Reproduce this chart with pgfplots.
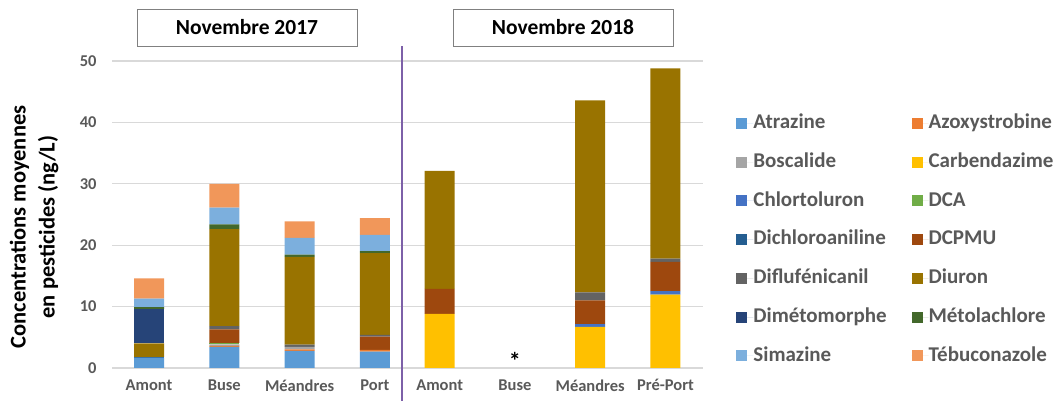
\documentclass[border=0pt]{standalone}
\usepackage{pgfplots}
\pgfplotsset{compat=1.18}
\usepackage{pgfplotstable}
\usepackage{fontspec}
\setmainfont{Carlito}

\definecolor{cAtr}{HTML}{5B9BD5}
\definecolor{cAzo}{HTML}{ED7D31}
\definecolor{cBos}{HTML}{A5A5A5}
\definecolor{cCar}{HTML}{FFC000}
\definecolor{cChl}{HTML}{4472C4}
\definecolor{cDCA}{HTML}{70AD47}
\definecolor{cDic}{HTML}{255E91}
\definecolor{cDCP}{HTML}{9E480E}
\definecolor{cDif}{HTML}{636363}
\definecolor{cDiu}{HTML}{997300}
\definecolor{cDim}{HTML}{264478}
\definecolor{cMet}{HTML}{43682B}
\definecolor{cSim}{HTML}{7CAFDD}
\definecolor{cTeb}{HTML}{F1975A}
\definecolor{labgray}{HTML}{595959}
\definecolor{gridgray}{HTML}{D9D9D9}
\definecolor{sepline}{RGB}{125,96,168}

% concentrations (ng/L), one row per site; Buse 2018 has no data (*)
\pgfplotstableread{
x    Atr  Azo  Bos  Car   Chl  DCA  Dic  DCP  Dif  Diu  Dim  Met  Sim  Teb
0    1.7  0    0    0     0    0    0.1  0    0    2.2  5.6  0.3  1.4  3.3
1    3.45 0.15 0.25 0     0    0.25 0    2.2  0.5  15.8 0    0.8  2.7  3.9
2    2.8  0.25 0.4  0     0    0    0    0    0.35 14.3 0    0.35 2.75 2.7
3    2.65 0.3  0    0     0    0    0    2.15 0.3  13.3 0    0.35 2.65 2.7
3.86 0    0    0    8.8   0    0    0    4.1  0    19.2 0    0    0    0
5.86 0    0    0    6.7   0.45 0    0    3.85 1.3  31.3 0    0    0    0
6.86 0    0    0    11.95 0.55 0    0    4.8  0.5  31.0 0    0    0    0
}\data

\begin{document}
\begin{tikzpicture}[x=1pt,y=1pt]
\begin{axis}[
  at={(149pt,33pt)}, anchor=origin,
  scale only axis, width=591pt, height=307pt,
  ybar stacked, bar width=30pt,
  xmin=-0.49, xmax=7.36, ymin=0, ymax=50,
  ytick={0,10,...,50},
  xtick={0,1,2,3,3.86,4.86,5.86,6.86},
  xticklabels={Amont,Buse,Méandres,Port,Amont,Buse,Méandres,Pré-Port},
  ymajorgrids, grid style={draw=gridgray, line width=1.2pt},
  axis line style={draw=none}, major tick length=0pt,
  /pgf/number format/assume math mode=true,
  ticklabel style={font=\bfseries\fontsize{16.5}{19}\selectfont, text=labgray},
  xticklabel style={yshift=-8pt},
  yticklabel style={xshift=-12pt},
  clip=false,
  legend columns=2, legend cell align=left,
  legend image code/.code={\fill[#1] (0pt,-5.5pt) rectangle (11pt,5.5pt); \path (0pt,0pt) -- (17pt,0pt);},
  legend style={at={(axis description cs:1.056,0.827)}, anchor=north west,
    draw=none, fill=none, inner sep=0pt, row sep=20.2pt,
    font=\bfseries\fontsize{21}{23}\selectfont, text=labgray,
    nodes={inner sep=0pt, text height=14.5pt, text depth=4pt},
    /tikz/every even column/.append style={column sep=25pt}},
]
\addplot[fill=cAtr, draw=none] table[x=x, y=Atr] {\data};
\addplot[fill=cAzo, draw=none] table[x=x, y=Azo] {\data};
\addplot[fill=cBos, draw=none] table[x=x, y=Bos] {\data};
\addplot[fill=cCar, draw=none] table[x=x, y=Car] {\data};
\addplot[fill=cChl, draw=none] table[x=x, y=Chl] {\data};
\addplot[fill=cDCA, draw=none] table[x=x, y=DCA] {\data};
\addplot[fill=cDic, draw=none] table[x=x, y=Dic] {\data};
\addplot[fill=cDCP, draw=none] table[x=x, y=DCP] {\data};
\addplot[fill=cDif, draw=none] table[x=x, y=Dif] {\data};
\addplot[fill=cDiu, draw=none] table[x=x, y=Diu] {\data};
\addplot[fill=cDim, draw=none] table[x=x, y=Dim] {\data};
\addplot[fill=cMet, draw=none] table[x=x, y=Met] {\data};
\addplot[fill=cSim, draw=none] table[x=x, y=Sim] {\data};
\addplot[fill=cTeb, draw=none] table[x=x, y=Teb] {\data};
\legend{Atrazine,Azoxystrobine,Boscalide,Carbendazime,Chlortoluron,DCA,Dichloroaniline,DCPMU,Diflufénicanil,Diuron,Dimétomorphe,Métolachlore,Simazine,Tébuconazole}
\draw[color=sepline, line width=1.3pt] (axis cs:3.36,52.4) -- (axis cs:3.36,-5.4);
\node[font=\bfseries\fontsize{24}{24}\selectfont] at (axis cs:4.86,1.1) {*};
\end{axis}
\node[draw=gray, line width=0.8pt, minimum width=220pt, minimum height=37pt,
  font=\bfseries\fontsize{21.5}{24}\selectfont] at (247pt,373.5pt) {Novembre 2017};
\node[draw=gray, line width=0.8pt, minimum width=220pt, minimum height=37pt,
  font=\bfseries\fontsize{21.5}{24}\selectfont] at (563pt,373.5pt) {Novembre 2018};
\node[rotate=90, align=center, font=\bfseries\fontsize{22.5}{29}\selectfont] at (34pt,174pt)
  {Concentrations moyennes\\en pesticides (ng/L)};
\pgfresetboundingbox
\useasboundingbox (0pt,0pt) rectangle (1056pt,401pt);
\end{tikzpicture}
\end{document}
